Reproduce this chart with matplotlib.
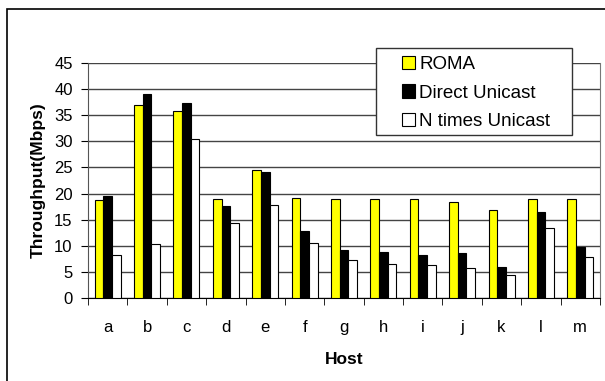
import numpy as np
import matplotlib.pyplot as plt
from matplotlib.patches import Rectangle

plt.rcParams['font.family'] = ['Liberation Sans', 'DejaVu Sans']

hosts = ['a', 'b', 'c', 'd', 'e', 'f', 'g', 'h', 'i', 'j', 'k', 'l', 'm']
roma = [18.8, 36.9, 35.8, 19.0, 24.6, 19.2, 19.0, 19.0, 19.0, 18.3, 16.9, 19.0, 18.9]
direct_unicast = [19.5, 39.1, 37.4, 17.6, 24.1, 12.8, 9.2, 8.8, 8.3, 8.7, 5.9, 16.5, 9.8]
n_times_unicast = [8.15, 10.4, 30.4, 14.4, 17.8, 10.5, 7.3, 6.6, 6.4, 5.7, 4.5, 13.5, 7.8]

W, H = 605, 381
fig = plt.figure(figsize=(W / 100, H / 100), dpi=100)
ax = fig.add_axes([88/W, 1 - 298/H, 512/W, 235/H])

# 外枠
fig.patches.append(Rectangle((7/W, -0.1), 1.2, 1 - 9/H + 0.1, transform=fig.transFigure,
                             fill=False, edgecolor='black', linewidth=1.2))

x = np.arange(len(hosts)) + 0.5
w = 0.22
ax.bar(x - w, roma, w, color='#ffff00', edgecolor='black', linewidth=0.8, label='ROMA', zorder=3)
ax.bar(x, direct_unicast, w, color='black', edgecolor='black', linewidth=0.8, label='Direct Unicast', zorder=3)
ax.bar(x + w, n_times_unicast, w, color='white', edgecolor='black', linewidth=0.8, label='N times Unicast', zorder=3)

ax.set_xlim(0, len(hosts))
ax.set_ylim(0, 45)
ax.set_yticks(np.arange(0, 46, 5))
ax.yaxis.grid(True, color='#444444', linewidth=1.0, zorder=0)
ax.set_axisbelow(True)

ax.set_xticks(x)
ax.set_xticklabels(hosts, fontsize=12)
ax.set_xticks(np.arange(0, len(hosts) + 1), minor=True)
ax.tick_params(axis='x', which='major', length=0, pad=16)
ax.tick_params(axis='x', which='minor', length=5, direction='out', color='black')
ax.tick_params(axis='y', labelsize=12, length=5, direction='out', pad=6)

ax.spines['top'].set_visible(False)
ax.spines['right'].set_color('#777777')
ax.spines['left'].set_color('#555555')
ax.spines['bottom'].set_color('black')

ax.set_xlabel('Host', fontsize=12.5, fontweight='bold', labelpad=12)
ax.set_ylabel('Throughput(Mbps)', fontsize=12.5, fontweight='bold', labelpad=6)

# 凡例（枠は別に描く）
fig.patches.append(Rectangle((376/W, 1 - 135/H), 196/W, 87/H, transform=fig.transFigure,
                             facecolor='white', edgecolor='#333333', linewidth=1.0, zorder=2))
leg = fig.legend(loc='upper left', bbox_to_anchor=(396/W, 1 - 50/H), fontsize=13.5,
                 frameon=False, handlelength=0.7, handleheight=0.7, handletextpad=0.25,
                 labelspacing=0.62, borderpad=0.3, borderaxespad=0)

plt.savefig('out.png', dpi=100)
